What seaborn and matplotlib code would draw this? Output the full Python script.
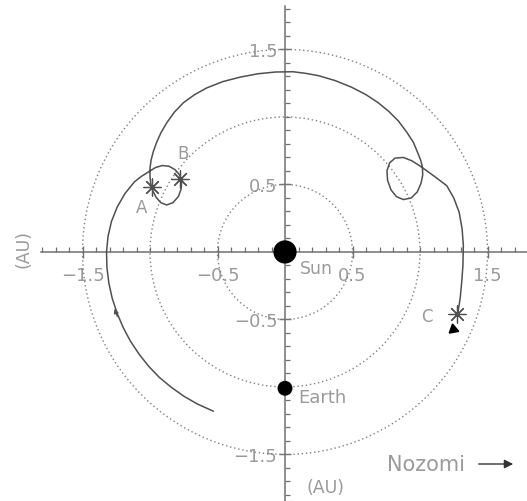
import matplotlib
matplotlib.use("Agg")
import matplotlib.pyplot as plt
import seaborn as sns
import pandas as pd
from matplotlib.ticker import FixedLocator, MultipleLocator
from matplotlib.patches import Circle

# ---- data (AU) ----
traj_x = [-0.53, -0.650, -0.749, -0.842, -0.930, -1.010, -1.081, -1.145, -1.199, -1.244,
          -1.280, -1.305, -1.319, -1.322, -1.311, -1.285, -1.243, -1.186, -1.115, -1.059,
          -1.0, -0.96, -0.91, -0.86, -0.815, -0.78, -0.765, -0.77, -0.79, -0.83,
          -0.877, -0.92, -0.955, -0.98, -0.995, -1.0, -1.0, -0.992, -0.975, -0.951,
          -0.918, -0.877, -0.82, -0.753, -0.67, -0.58, -0.46, -0.333, -0.2, -0.07,
          0.06, 0.16, 0.247, 0.37, 0.494, 0.6, 0.691, 0.77, 0.84, 0.9,
          0.951, 0.985, 1.005, 1.018, 1.02, 1.008, 0.98, 0.935, 0.877, 0.825,
          0.785, 0.76, 0.755, 0.775, 0.815, 0.877, 0.94, 0.995, 1.049, 1.12,
          1.198, 1.25, 1.29, 1.312, 1.321, 1.318, 1.309, 1.298, 1.28]
traj_y = [-1.18, -1.126, -1.069, -1.003, -0.930, -0.847, -0.757, -0.661, -0.559, -0.453,
          -0.343, -0.230, -0.115, 0.0, 0.115, 0.227, 0.333, 0.432, 0.520, 0.563,
          0.60, 0.625, 0.64, 0.635, 0.61, 0.57, 0.52, 0.465, 0.41, 0.365,
          0.348, 0.365, 0.405, 0.455, 0.51, 0.56, 0.62, 0.68, 0.745, 0.812,
          0.885, 0.955, 1.035, 1.105, 1.165, 1.215, 1.262, 1.295, 1.32, 1.333,
          1.335, 1.322, 1.306, 1.27, 1.22, 1.165, 1.105, 1.04, 0.97, 0.89,
          0.812, 0.73, 0.68, 0.627, 0.57, 0.51, 0.445, 0.40, 0.388, 0.41,
          0.46, 0.53, 0.60, 0.66, 0.695, 0.70, 0.675, 0.64, 0.602, 0.55,
          0.491, 0.40, 0.294, 0.17, 0.05, -0.10, -0.222, -0.34, -0.455]
orbit_radii = [0.5, 1.0, 1.5]
body_names = ["Sun", "Earth"]
body_x = [0.0, 0.0]
body_y = [0.0, -1.01]
event_names = ["A", "B", "C"]
event_x = [-0.988, -0.778, 1.277]
event_y = [0.481, 0.541, -0.462]
tick_values = [-1.5, -0.5, 0.5, 1.5]
tick_labels = ["\u22121.5", "\u22120.5", "0.5", "1.5"]

LABEL = "#9a9a9a"
AXIS = "#707070"
LINE = "#505050"

sns.set_style("white")
plt.rcParams["font.family"] = ["DejaVu Sans"]

fig = plt.figure(figsize=(5.27, 5.02), dpi=100)
ax = fig.add_axes([0.07714, 0.0, 0.92220, 0.98606])
ax.set_xlim(-1.81, 1.79)
ax.set_ylim(-1.845, 1.822)

# dotted reference circles
for r in orbit_radii:
    ax.add_patch(Circle((0, 0), r, fill=False, ls=(0, (1, 2.0)), ec="#808080", lw=1.0, zorder=1))

# trajectory
traj = pd.DataFrame({"x": traj_x, "y": traj_y})
sns.lineplot(data=traj, x="x", y="y", sort=False, estimator=None, color=LINE, lw=1.1, ax=ax, zorder=3)

# direction arrowheads
ax.annotate("", xy=(-1.268, -0.40), xytext=(-1.236, -0.50),
            arrowprops=dict(arrowstyle="-|>", color=LINE, lw=0.8, mutation_scale=7), zorder=4)
ax.plot([1.245], [-0.572], marker=(3, 0, 10), ms=8, color="black", zorder=4)

# Sun and Earth
bodies = pd.DataFrame({"name": body_names, "x": body_x, "y": body_y})
sns.scatterplot(data=bodies, x="x", y="y", size="name", sizes={"Sun": 280, "Earth": 115},
                color="black", edgecolor="none", legend=False, ax=ax, zorder=5)
ax.text(0.11, -0.122, "Sun", ha="left", va="center", fontsize=12.5, color=LABEL)
ax.text(0.096, -1.078, "Earth", ha="left", va="center", fontsize=13, color=LABEL)

# events
events = pd.DataFrame({"name": event_names, "x": event_x, "y": event_y})
sns.scatterplot(data=events, x="x", y="y", marker=(8, 2, 0), s=150, color=LINE,
                linewidth=0.9, legend=False, ax=ax, zorder=4)
ax.text(-1.059, 0.333, "A", ha="center", va="center", fontsize=12, color=LABEL)
ax.text(-0.756, 0.733, "B", ha="center", va="center", fontsize=12, color=LABEL)
ax.text(1.052, -0.474, "C", ha="center", va="center", fontsize=12, color=LABEL)

# axes through origin
for s in ["top", "right"]:
    ax.spines[s].set_visible(False)
for s in ["left", "bottom"]:
    ax.spines[s].set_position("zero")
    ax.spines[s].set_color(AXIS)
    ax.spines[s].set_linewidth(1.1)
ax.xaxis.set_major_locator(FixedLocator(tick_values))
ax.yaxis.set_major_locator(FixedLocator(tick_values))
ax.set_xticklabels(tick_labels)
ax.set_yticklabels(tick_labels)
ax.xaxis.set_minor_locator(MultipleLocator(0.1))
ax.yaxis.set_minor_locator(MultipleLocator(0.1))
ax.tick_params(which="both", bottom=True, left=True, top=False, right=False)
ax.tick_params(which="major", direction="inout", length=8, width=1.0, color=AXIS,
               labelsize=13, labelcolor=LABEL)
ax.tick_params(axis="x", which="major", pad=6)
ax.tick_params(axis="y", which="major", pad=1.5)
ax.tick_params(which="minor", direction="in", length=3.6, width=0.9, color=AXIS)
ax.set_xlabel("")
ax.set_ylabel("")
ax.set_facecolor("white")

# axis unit labels
fig.text(23 / 527, 1 - 249 / 502, "(AU)", rotation=90, ha="center", va="center",
         fontsize=12.5, color=LABEL)
fig.text(326 / 527, 1 - 488 / 502, "(AU)", ha="center", va="center",
         fontsize=12.5, color=LABEL)

# Nozomi legend
fig.text(387 / 527, 1 - 465 / 502, "Nozomi", ha="left", va="center", fontsize=15, color=LABEL)
ax.annotate("", xy=(516 / 527, 1 - 465 / 502), xytext=(476 / 527, 1 - 465 / 502),
            xycoords="figure fraction", textcoords="figure fraction",
            arrowprops=dict(arrowstyle="-|>", color="#333333", lw=1.0, mutation_scale=13))

fig.savefig("out.png", dpi=100, facecolor="white")
